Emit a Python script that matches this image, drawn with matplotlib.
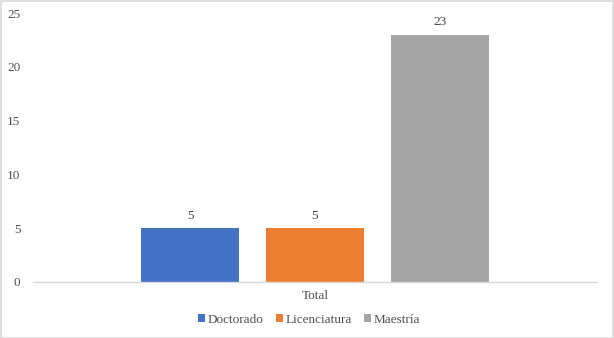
import matplotlib.pyplot as plt
from matplotlib.patches import Rectangle

# datos del grafico
categorias = ["Doctorado", "Licenciatura", "Maestría"]
valores = [5, 5, 23]
colores = ["#4472c4", "#ed7d31", "#a5a5a5"]
grupo = "Total"
yticks = [0, 5, 10, 15, 20, 25]

plt.rcParams['font.family'] = ['Liberation Serif', 'DejaVu Serif']

fig = plt.figure(figsize=(6.14, 3.38), dpi=100)
ax = fig.add_axes([33 / 614, 1 - 282 / 338, 564 / 614, 269 / 338])

ancho = 98 / 564
paso = 125 / 564
for i, (cat, val, col) in enumerate(zip(categorias, valores, colores)):
    x = (i - 1) * paso
    ax.bar(x, val, width=ancho, color=col, label=cat, zorder=2)
    ax.text(x, val + 0.6, str(val), ha="center", va="bottom",
            fontsize=9.5, color="#404040")

ax.set_xlim(-0.5, 0.5)
ax.set_ylim(0, 25)
ax.set_yticks(yticks)
ax.set_xticks([0])
ax.set_xticklabels([grupo])
ax.tick_params(axis="y", length=0, pad=9, labelsize=9.5, labelcolor="#505050")
ax.tick_params(axis="x", length=0, pad=6, labelsize=9.5, labelcolor="#505050")
for s in ["top", "right", "left"]:
    ax.spines[s].set_visible(False)
ax.spines["bottom"].set_color("#d9d9d9")
ax.spines["bottom"].set_linewidth(1)

leg = fig.legend(loc="center", bbox_to_anchor=(309 / 614, 1 - 320 / 338),
                 ncol=3, frameon=False, fontsize=9.5, handlelength=0.55,
                 handleheight=0.55, handletextpad=0.2, columnspacing=0.9)
for t in leg.get_texts():
    t.set_color("#505050")

# borde de la figura
fig.patches.append(Rectangle((0.001, 0.001), 0.997, 0.996, transform=fig.transFigure,
                             fill=False, edgecolor="#d9d9d9", linewidth=1.2))

fig.savefig("out.png", dpi=100)
